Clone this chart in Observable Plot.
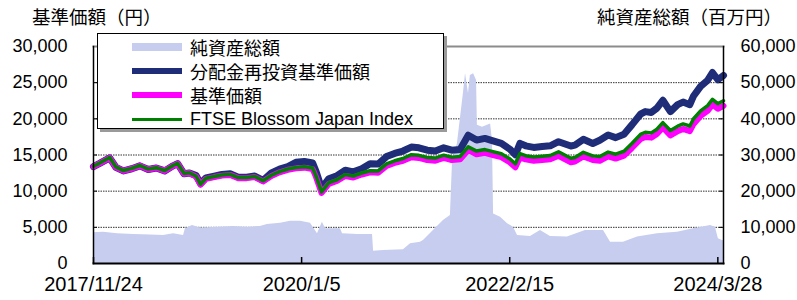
<!DOCTYPE html>
<html><head><meta charset="utf-8">
<script src="https://cdn.jsdelivr.net/npm/d3@7"></script>
<script src="https://cdn.jsdelivr.net/npm/@observablehq/plot@0.6"></script>
<style>
body{margin:0;background:#fff;}
#wrap{position:relative;width:797px;height:300px;overflow:hidden;font-family:"Liberation Sans",Arial,sans-serif;}
.title{position:absolute;top:5px;font-family:"Noto Sans CJK JP",sans-serif;font-size:18.5px;line-height:22px;color:#000;white-space:nowrap;}
#legend{position:absolute;left:97px;top:33px;width:345px;height:94px;background:#fff;border:1px solid #000;box-shadow:3px 3px 0 #9a9a9a;}
.item{position:absolute;left:0;width:345px;height:24px;}
.sw{position:absolute;left:34px;width:50px;}
.lt{position:absolute;left:92px;top:0;line-height:24px;font-size:18px;color:#000;white-space:nowrap;}
.cjk{font-family:"Noto Sans CJK JP",sans-serif;}
.lat{font-family:"Liberation Sans",Arial,sans-serif;}
</style></head>
<body>
<div id="wrap">
  <div id="chart"></div>
  <div class="title" style="left:32px;">基準価額（円）</div>
  <div class="title" style="right:15px;">純資産総額（百万円）</div>
  <div id="legend"></div>
</div>
<script>
// ---- data ----
const seriesNames = ["純資産総額", "分配金再投資基準価額", "基準価額", "FTSE Blossom Japan Index"];
const seriesColors = ["#c6cdee", "#1f2c78", "#ff00ff", "#008000"];

const dates = ["2017-11-24","2017-12-15","2018-01-23","2018-02-15","2018-03-15","2018-04-15","2018-05-15","2018-06-15","2018-07-15","2018-08-15","2018-09-15","2018-10-02","2018-10-26","2018-11-15","2018-12-10","2018-12-26","2019-01-15","2019-02-15","2019-03-15","2019-04-15","2019-05-15","2019-06-15","2019-07-15","2019-08-15","2019-09-15","2019-10-15","2019-11-15","2019-12-15","2020-01-15","2020-02-15","2020-02-28","2020-03-19","2020-04-15","2020-05-15","2020-06-15","2020-07-15","2020-08-15","2020-09-15","2020-10-15","2020-11-15","2020-12-15","2021-01-15","2021-02-15","2021-03-15","2021-04-15","2021-05-15","2021-06-15","2021-07-15","2021-08-15","2021-09-14","2021-10-15","2021-11-15","2021-12-15","2022-01-15","2022-02-15","2022-03-08","2022-03-25","2022-04-15","2022-05-15","2022-06-15","2022-07-15","2022-08-15","2022-09-30","2022-10-15","2022-11-15","2022-12-20","2023-01-15","2023-02-15","2023-03-15","2023-04-15","2023-05-15","2023-06-15","2023-07-03","2023-07-25","2023-08-15","2023-09-06","2023-10-04","2023-10-31","2023-11-20","2023-12-15","2023-12-29","2024-01-24","2024-02-19","2024-03-08","2024-03-28","2024-04-18"];

const nav = [13400,13800,14600,13300,12800,13100,13500,13000,13200,12800,13500,13800,12400,12500,12000,10900,11700,11950,12150,12250,11800,11800,11950,11350,12100,12600,12950,13150,13250,13050,11900,9750,11000,11400,12100,11900,12300,12600,12550,13500,13900,14200,14700,14600,14300,14200,14600,14300,14400,15700,15100,15300,15000,14700,14000,13300,14700,14400,14200,14300,14400,14900,14000,14100,14800,14300,14200,14800,14500,14900,16000,17200,17500,17400,17900,18800,17700,18300,18600,18300,19300,20400,21100,22000,21400,21800];

const navReinvested = [13400,13800,14600,13300,12800,13100,13500,13000,13200,12800,13500,13800,12400,12500,12150,11030,11840,12090,12300,12400,11940,11940,12090,11490,12520,13040,13400,14000,14110,13900,12670,10380,11720,12140,12890,12670,13100,13800,13740,14780,15220,15550,16100,15990,15660,15550,15990,15660,15770,17740,17060,17290,16950,16610,15820,15030,16610,16270,16050,16160,16270,16840,16240,16360,17170,16590,17040,17760,17400,17880,19200,20640,21000,20880,21480,22560,21000,21960,22320,21960,23160,24480,25320,26400,25400,26000];

const ftse = [13450,13850,14650,13350,12850,13150,13550,13050,13250,12850,13550,13850,12450,12550,12060,10960,11780,12030,12230,12330,11880,11890,12040,11440,12200,12700,13060,13270,13380,13190,12050,9900,11170,11580,12290,12100,12510,12830,12800,13780,14200,14520,15040,14950,14660,14570,14980,14690,14800,16130,15540,15750,15460,15170,14480,13790,15200,14900,14710,14820,14930,15440,14550,14660,15370,14880,14790,15400,15110,15520,16630,17840,18150,18060,18570,19480,18390,18990,19300,19010,20010,21110,21820,22700,22100,22500];

const assetDates = ["2017-11-24","2017-12-31","2018-02-21","2018-04-21","2018-06-23","2018-08-11","2018-09-17","2018-10-24","2018-10-31","2018-11-26","2018-12-26","2019-02-27","2019-04-27","2019-06-18","2019-08-05","2019-08-31","2019-10-19","2019-11-25","2020-01-01","2020-02-07","2020-03-04","2020-03-22","2020-04-03","2020-05-28","2020-06-05","2020-07-30","2020-09-24","2020-09-28","2020-11-04","2021-01-17","2021-02-12","2021-03-21","2021-04-01","2021-05-08","2021-06-14","2021-07-10","2021-07-18","2021-08-05","2021-08-27","2021-09-04","2021-09-15","2021-09-22","2021-10-04","2021-10-15","2021-10-18","2021-11-06","2021-12-06","2021-12-13","2021-12-17","2022-01-12","2022-02-07","2022-03-01","2022-03-16","2022-05-03","2022-06-09","2022-07-16","2022-09-17","2022-11-23","2023-01-29","2023-02-24","2023-04-13","2023-06-04","2023-08-17","2023-10-30","2023-12-29","2024-03-01","2024-03-19","2024-03-30","2024-04-14","2024-04-18"];

const netAssets = [8500,8650,8200,8000,7900,7750,8200,7750,9600,10500,9850,10050,10250,10050,10250,10800,11150,11700,11700,11150,8200,11400,9600,9600,8200,8000,8000,3400,3600,3800,5450,5900,6350,9100,11900,13300,28500,33100,46900,52500,47000,52000,52500,50600,38200,37700,38600,34000,13700,12800,11000,10050,7750,7450,9100,7450,7300,9100,9100,5900,5900,7300,8200,8650,9600,10500,10050,6850,6350,6300];

const leftTicks = [0, 5000, 10000, 15000, 20000, 25000, 30000];
const xDomain = ["2017-11-24", "2024-04-18"];
const xTickDates = ["2017-11-24", "2020-01-05", "2022-02-15", "2024-03-28"];
const xTickLabels = ["2017/11/24", "2020/1/5", "2022/2/15", "2024/3/28"];

// ---- chart ----
const parse = d3.utcParse("%Y-%m-%d");
const lineData = dates.map((d, i) => ({date: parse(d), nav: nav[i], re: navReinvested[i], ftse: ftse[i]}));
const assetData = assetDates.map((d, i) => ({date: parse(d), v: netAssets[i]}));
const tickDates = xTickDates.map(parse);
const labelOf = new Map(tickDates.map((d, i) => [+d, xTickLabels[i]]));
const fmt = d3.format(",");

const chart = Plot.plot({
  width: 797, height: 300,
  marginLeft: 93, marginRight: 74, marginTop: 46, marginBottom: 37,
  style: {fontFamily: "'Liberation Sans', Arial, sans-serif", fontSize: "18px", background: "transparent", color: "#000"},
  x: {type: "utc", domain: xDomain.map(parse)},
  y: {domain: [0, 30000]},
  marks: [
    Plot.gridY(leftTicks.slice(1, -1), {stroke: "#333", strokeOpacity: 1, strokeDasharray: "1.5,1", strokeWidth: 1}),
    Plot.areaY(assetData, {x: "date", y: d => d.v / 2, fill: seriesColors[0]}),
    Plot.lineY(lineData, {x: "date", y: "re", stroke: seriesColors[1], strokeWidth: 7, strokeLinejoin: "round"}),
    Plot.lineY(lineData, {x: "date", y: "nav", stroke: seriesColors[2], strokeWidth: 6, strokeLinejoin: "round"}),
    Plot.lineY(lineData, {x: "date", y: "ftse", stroke: seriesColors[3], strokeWidth: 3.5, strokeLinejoin: "round"}),
    Plot.axisY(leftTicks, {anchor: "left", tickSize: 0, tickPadding: 26, tickFormat: fmt, label: null}),
    Plot.axisY(leftTicks, {anchor: "right", tickSize: 0, tickPadding: 17, tickFormat: d => fmt(d * 2), label: null}),
    Plot.axisX(tickDates, {anchor: "bottom", tickSize: 0, tickPadding: 13, tickFormat: d => labelOf.get(+d), label: null, fontSize: 20}),
    Plot.tickX(tickDates, {x: d => d, stroke: "#000", strokeWidth: 1.5, insetTop: 211}),
    Plot.tickY(leftTicks, {y: d => d, stroke: "#000", insetRight: 626}),
    Plot.tickY(leftTicks, {y: d => d, stroke: "#000", insetLeft: 626}),
    Plot.frame({anchor: "top", stroke: "#8c8c8c", strokeWidth: 2}),
    Plot.frame({anchor: "left", stroke: "#000", strokeWidth: 1.5}),
    Plot.frame({anchor: "right", stroke: "#000", strokeWidth: 1.5}),
    Plot.frame({anchor: "bottom", stroke: "#000", strokeWidth: 2})
  ]
});
document.getElementById("chart").appendChild(chart);

// ---- legend ----
const legend = document.getElementById("legend");
const rowTops = [1, 25, 49, 73];
seriesNames.forEach((name, i) => {
  const item = document.createElement("div");
  item.className = "item";
  item.style.top = rowTops[i] + "px";
  const sw = document.createElement("div");
  sw.className = "sw";
  const h = i === 0 ? 8 : (i === 3 ? 3 : 6);
  sw.style.height = h + "px";
  sw.style.top = (12 - h / 2) + "px";
  sw.style.background = seriesColors[i];
  const t = document.createElement("div");
  t.className = "lt " + (i === 3 ? "lat" : "cjk");
  t.textContent = name;
  item.appendChild(sw);
  item.appendChild(t);
  legend.appendChild(item);
});
</script>
</body></html>
